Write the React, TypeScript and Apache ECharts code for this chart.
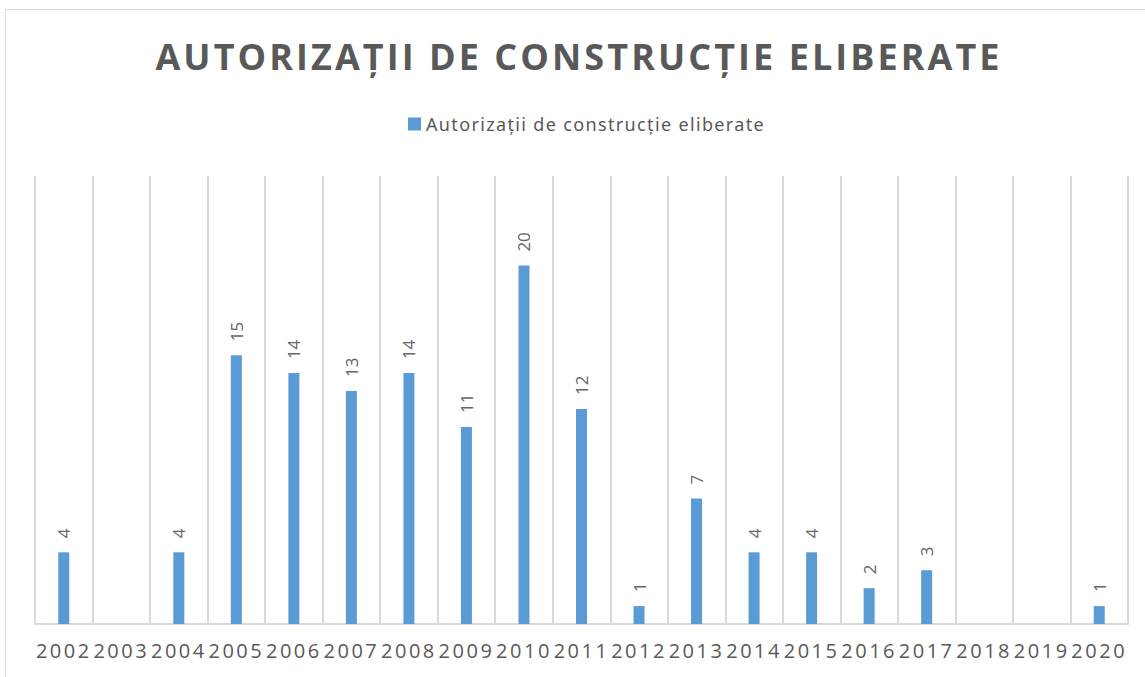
import React, { useEffect, useRef } from "react";
import * as echarts from "echarts";

const TITLE = "AUTORIZAȚII DE CONSTRUCȚIE ELIBERATE";
const SERIES_NAME = "Autorizații de construcție eliberate";
const years = ["2002", "2003", "2004", "2005", "2006", "2007", "2008", "2009", "2010", "2011", "2012", "2013", "2014", "2015", "2016", "2017", "2018", "2019", "2020"];
const permits: (number | null)[] = [4, null, 4, 15, 14, 13, 14, 11, 20, 12, 1, 7, 4, 4, 2, 3, null, null, 1];
const yMax = 25;

const GRAY = "#595959";
const LINE = "#d9d9d9";
const BLUE = "#5B9BD5";

const css = `
#chart-host text[style*="36px"][style*="Open Sans"] { letter-spacing: 3.05px; }
#chart-host text[style*="20px"][style*="Open Sans"] { letter-spacing: 2.5px; }
#chart-host text[style*="Noto Sans"] { letter-spacing: 1.35px; }
`;

export default function App() {
  const ref = useRef<HTMLDivElement>(null);
  useEffect(() => {
    if (!ref.current) return;
    const chart = echarts.init(ref.current, null, { renderer: "svg" });
    chart.setOption({
      animation: false,
      backgroundColor: "#ffffff",
      title: {
        text: TITLE,
        left: 574,
        top: 33,
        textAlign: "center",
        textStyle: { fontFamily: "Open Sans", fontWeight: "bold", fontSize: 36, color: GRAY },
      },
      legend: {
        data: [SERIES_NAME],
        left: 403,
        top: 110,
        icon: "rect",
        itemWidth: 13,
        itemHeight: 13,
        textStyle: { fontFamily: "Noto Sans", fontSize: 18, color: GRAY },
      },
      graphic: [
        {
          type: "rect",
          shape: { x: 5.5, y: 9.5, width: 1150, height: 700 },
          style: { fill: "none", stroke: LINE, lineWidth: 1 },
          silent: true,
        },
      ],
      grid: { left: 35, right: 17, top: 176, bottom: 53, containLabel: false },
      xAxis: {
        type: "category",
        data: years,
        boundaryGap: true,
        axisLine: { show: true, lineStyle: { color: LINE, width: 2 } },
        axisTick: { show: false },
        splitLine: { show: true, lineStyle: { color: LINE, width: 2 } },
        axisLabel: { fontFamily: "Open Sans", fontSize: 20, color: GRAY, margin: 16, interval: 0 },
      },
      yAxis: {
        type: "value",
        min: 0,
        max: yMax,
        show: false,
        splitLine: { show: false },
      },
      series: [
        {
          name: SERIES_NAME,
          type: "bar",
          data: permits,
          barWidth: 11,
          itemStyle: { color: BLUE },
          label: {
            show: true,
            position: "top",
            rotate: 90,
            align: "left",
            verticalAlign: "middle",
            distance: 14,
            fontFamily: "Open Sans",
            fontSize: 17,
            color: "#666666",
          },
        },
      ],
    });
    return () => chart.dispose();
  }, []);
  return (
    <>
      <style>{css}</style>
      <div
        id="chart-host"
        ref={ref}
        style={{ position: "fixed", left: 0, top: 0, width: 1145, height: 677 }}
      />
    </>
  );
}
